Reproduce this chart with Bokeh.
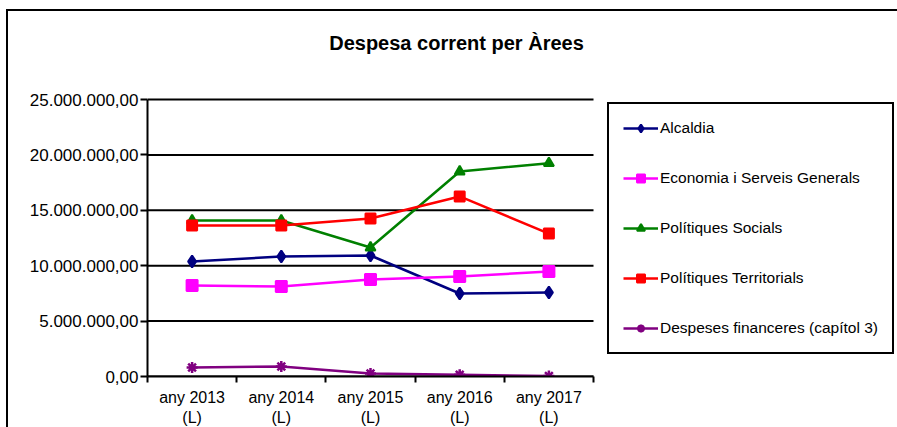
from bokeh.plotting import figure
from bokeh.models import FixedTicker, Legend, LegendItem, Range1d, Label, GlobalInlineStyleSheet
from bokeh.embed import file_html
from bokeh.resources import INLINE

years = ["any 2013\n(L)", "any 2014\n(L)", "any 2015\n(L)", "any 2016\n(L)", "any 2017\n(L)"]
alcaldia = [10380000, 10830000, 10920000, 7490000, 7580000]
economia = [8210000, 8120000, 8750000, 9030000, 9480000]
socials = [14080000, 14080000, 11640000, 18500000, 19250000]
territorials = [13630000, 13630000, 14260000, 16250000, 12900000]
financeres = [810000, 900000, 270000, 150000, 50000]
series_names = ["Alcaldia", "Economia i Serveis Generals", "Polítiques Socials",
                "Polítiques Territorials", "Despeses financeres (capítol 3)"]
y_ticks = [0, 5000000, 10000000, 15000000, 20000000, 25000000]
y_tick_labels = ["0,00", "5.000.000,00", "10.000.000,00", "15.000.000,00",
                 "20.000.000,00", "25.000.000,00"]
title_text = "Despesa corrent per Àrees"

FONT = "Liberation Sans"
OX, OY = 8, 11          # canvas origin on page (after css margin)
EXTRA = 12              # canvas runs past the window's right/bottom edge (chart is cut there)
W, H = 897 - OX + EXTRA, 427 - OY + EXTRA
FRAME_L, FRAME_B = 147, 376
PLOT_T, PLOT_R = 99, 593
n = len(years)
y_max = y_ticks[-1]
# frame spans whole canvas right/top; data area is a sub-region of it
px_per_cat = (PLOT_R - FRAME_L) / n
x_end = -0.5 + (OX + W - FRAME_L) / px_per_cat
px_per_val = (FRAME_B - PLOT_T) / y_max
y_end = (FRAME_B - OY) / px_per_val

p = figure(width=W, height=H, output_backend="svg", toolbar_location=None,
           x_range=Range1d(-0.5, x_end), y_range=Range1d(0, y_end),
           min_border_left=FRAME_L - OX, min_border_right=0, min_border_top=0,
           min_border_bottom=OY + H - FRAME_B)
p.title.visible = False
p.styles = {"margin-left": f"{OX}px", "margin-top": f"{OY}px",
            "box-shadow": "-2px -2px 0px 0px black"}
p.stylesheets = [GlobalInlineStyleSheet(css="html, body { margin: 0; padding: 0; overflow: hidden; }")]
p.outline_line_color = None
p.background_fill_color = "white"
p.border_fill_color = "white"

xs = list(range(n))

# horizontal grid lines limited to the plotting area
p.xgrid.grid_line_color = None
p.ygrid.grid_line_color = None
p.segment(x0=[-0.5] * len(y_ticks), x1=[n - 0.5] * len(y_ticks), y0=y_ticks, y1=y_ticks,
          line_color="black", line_width=2)

# axes
p.yaxis.ticker = FixedTicker(ticks=y_ticks)
p.yaxis.bounds = (0, y_max)
p.yaxis.major_label_overrides = {t: l for t, l in zip(y_ticks, y_tick_labels)}
p.yaxis.axis_line_width = 2
p.yaxis.axis_line_color = "black"
p.yaxis.major_tick_line_width = 2
p.yaxis.major_tick_in = 0
p.yaxis.major_tick_out = 7
p.yaxis.minor_tick_line_color = None
p.yaxis.major_label_text_font = FONT
p.yaxis.major_label_text_font_size = "17px"
p.yaxis.major_label_text_color = "black"
p.yaxis.major_label_standoff = 2

p.xaxis.ticker = FixedTicker(ticks=xs, minor_ticks=[i - 0.5 for i in range(n + 1)])
p.xaxis.bounds = (-0.5, n - 0.5)
p.xaxis.major_label_overrides = {i: y for i, y in enumerate(years)}
p.xaxis.axis_line_width = 2
p.xaxis.axis_line_color = "black"
p.xaxis.major_tick_in = 0
p.xaxis.major_tick_out = 0
p.xaxis.minor_tick_in = 0
p.xaxis.minor_tick_out = 6
p.xaxis.minor_tick_line_width = 2
p.xaxis.minor_tick_line_color = "black"
p.xaxis.major_label_text_font = FONT
p.xaxis.major_label_text_font_size = "16px"
p.xaxis.major_label_text_color = "black"
p.xaxis.major_label_standoff = 6

# chart title (placed above the plotting area)
title = Label(x=-0.5 + (456 - FRAME_L) / px_per_cat, y=(FRAME_B - 42) / px_per_val,
              text=title_text, text_font=FONT, text_font_size="20px",
              text_font_style="bold", text_color="black",
              text_align="center", text_baseline="middle")
p.add_layout(title)

colors = ["#000080", "#FF00FF", "#008000", "#FF0000", "#800080"]
markers = ["diamond", "square", "triangle", "square", "asterisk"]
sizes = [12, 11, 10, 10, 11]
widths = [2, 2, 2, 2, 2.5]
data = [alcaldia, economia, socials, territorials, financeres]

items = []
for name, vals, c, m, s, lw in zip(series_names, data, colors, markers, sizes, widths):
    ln = p.line(xs, vals, line_color=c, line_width=2.5)
    sc = p.scatter(xs, vals, marker=m, size=s, fill_color=c, line_color=c, line_width=lw)
    items.append(LegendItem(label=name, renderers=[ln, sc]))

legend = Legend(items=items, location=(607 - FRAME_L, FRAME_B - 353 - 1), orientation="vertical")
legend.border_line_color = "black"
legend.border_line_width = 2
legend.border_line_alpha = 1
legend.background_fill_color = "white"
legend.background_fill_alpha = 1
legend.label_text_font = FONT
legend.label_text_font_size = "15.5px"
legend.label_text_color = "black"
legend.glyph_width = 35
legend.glyph_height = 20
legend.label_height = 20
legend.spacing = 30
legend.padding = 14
legend.label_standoff = 2
legend.margin = 0
p.add_layout(legend, "center")

open("out.html", "w").write(file_html(p, INLINE))
